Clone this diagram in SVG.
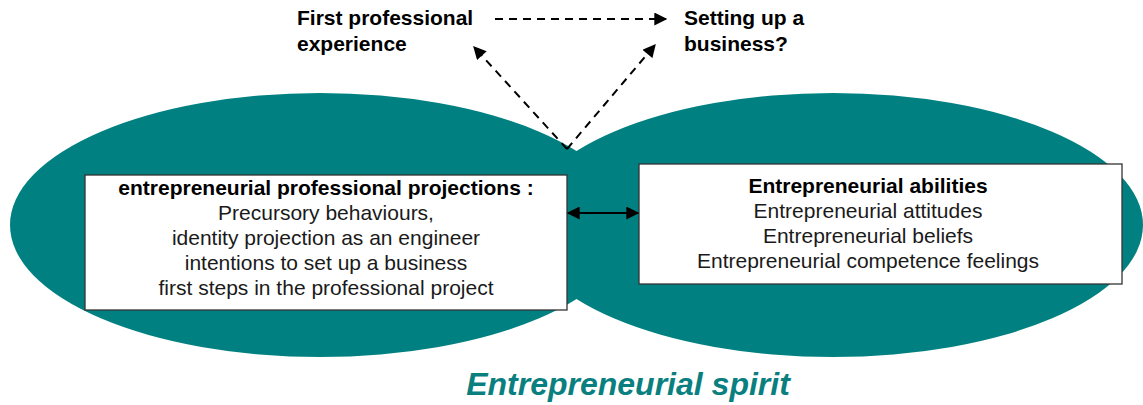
<svg xmlns="http://www.w3.org/2000/svg" width="1143" height="405" viewBox="0 0 1143 405">
<defs>
<style>
.ell{fill:#008080;stroke:none}
.box{fill:#ffffff;stroke:#333333;stroke-width:1.3}
.t{font-family:"Liberation Sans",Arial,sans-serif;fill:#000}
.b{font-weight:bold;font-size:21px}
.r{font-size:21px;fill:#1a1a1a}
.dash{stroke:#000;stroke-width:2;stroke-dasharray:8,6;fill:none}
.solid{stroke:#000;stroke-width:2;fill:none}
</style>
<marker id="ah2" viewBox="0 0 10 10" refX="9" refY="5" markerWidth="14" markerHeight="13" markerUnits="userSpaceOnUse" orient="auto-start-reverse"><path d="M0,0 L10,5 L0,10 z" fill="#000"/></marker>
</defs>
<g id="spirit-left"><ellipse class="ell" cx="320" cy="225" rx="310" ry="132"/></g>
<g id="spirit-right"><ellipse class="ell" cx="833" cy="225" rx="310" ry="132"/></g>
<g id="projections">
<rect class="box" x="85" y="175" width="482" height="135"/>
<text class="t b" x="326" y="195" text-anchor="middle">entrepreneurial professional projections :</text>
<text class="t r" x="326" y="220" text-anchor="middle">Precursory behaviours,</text>
<text class="t r" x="326" y="245" text-anchor="middle">identity projection as an engineer</text>
<text class="t r" x="326" y="270" text-anchor="middle">intentions to set up a business</text>
<text class="t r" x="326" y="295" text-anchor="middle">first steps in the professional project</text>
</g>
<g id="abilities">
<rect class="box" x="639" y="164" width="483" height="120"/>
<text class="t b" x="868" y="193" text-anchor="middle">Entrepreneurial abilities</text>
<text class="t r" x="868" y="218" text-anchor="middle">Entrepreneurial attitudes</text>
<text class="t r" x="868" y="243" text-anchor="middle">Entrepreneurial beliefs</text>
<text class="t r" x="868" y="268" text-anchor="middle">Entrepreneurial competence feelings</text>
</g>
<g id="first-experience">
<text class="t b" x="297" y="25">First professional</text>
<text class="t b" x="297" y="51">experience</text>
</g>
<g id="business">
<text class="t b" x="684" y="25">Setting up a</text>
<text class="t b" x="684" y="51">business?</text>
</g>
<g id="label">
<text x="628" y="395" text-anchor="middle" style="font-family:'Liberation Sans',Arial,sans-serif;font-size:32px;font-weight:bold;font-style:italic;fill:#0a7f7f">Entrepreneurial spirit</text>
</g>
<g id="connectors">
<line class="dash" x1="495" y1="19" x2="666" y2="19" marker-end="url(#ah2)"/>
<line class="dash" x1="567" y1="149" x2="474" y2="47" marker-end="url(#ah2)"/>
<line class="dash" x1="567" y1="149" x2="655" y2="45" marker-end="url(#ah2)"/>
<line class="solid" x1="568" y1="213" x2="638" y2="213" marker-start="url(#ah2)" marker-end="url(#ah2)"/>
</g>
</svg>
